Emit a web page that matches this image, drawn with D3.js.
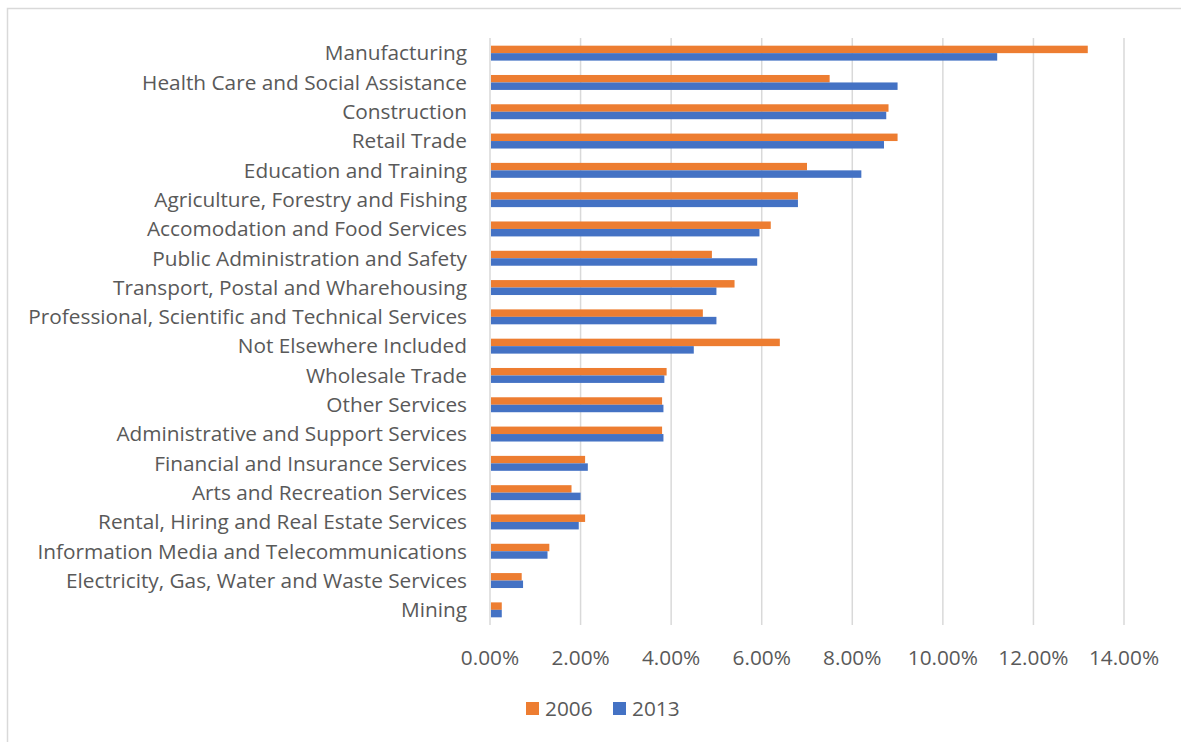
<!DOCTYPE html>
<html>
<head>
<meta charset="utf-8">
<script src="https://cdn.jsdelivr.net/npm/d3@7"></script>
<style>
  body { margin: 0; background: #fff; }
  svg { display: block; font-family: "Open Sans", Lato, sans-serif; }
</style>
</head>
<body>
<svg id="chart" width="1181" height="742"></svg>
<script>
const categories = [
  'Manufacturing', 'Health Care and Social Assistance', 'Construction', 'Retail Trade',
  'Education and Training', 'Agriculture, Forestry and Fishing', 'Accomodation and Food Services',
  'Public Administration and Safety', 'Transport, Postal and Wharehousing',
  'Professional, Scientific and Technical Services', 'Not Elsewhere Included', 'Wholesale Trade',
  'Other Services', 'Administrative and Support Services', 'Financial and Insurance Services',
  'Arts and Recreation Services', 'Rental, Hiring and Real Estate Services',
  'Information Media and Telecommunications', 'Electricity, Gas, Water and Waste Services', 'Mining'
];
const series = ['2006', '2013'];
const values2006 = [13.2, 7.5, 8.8, 9.0, 7.0, 6.8, 6.2, 4.9, 5.4, 4.7, 6.4, 3.9, 3.8, 3.8, 2.1, 1.8, 2.1, 1.31, 0.7, 0.26];
const values2013 = [11.2, 9.0, 8.75, 8.7, 8.2, 6.8, 5.95, 5.9, 5.0, 5.0, 4.5, 3.85, 3.83, 3.83, 2.16, 2.0, 1.96, 1.27, 0.73, 0.26];
const xTicks = [0, 2, 4, 6, 8, 10, 12, 14];
const colors = { '2006': '#ED7D31', '2013': '#4472C4' };

const svg = d3.select('#chart');
const txt = '#595959';
const fs = 20.8;

// outer chart border
svg.append('rect').attr('x', 7.5).attr('y', 8.5).attr('width', 1180).attr('height', 740)
  .attr('fill', 'none').attr('stroke', '#d9d9d9').attr('stroke-width', 1.5);

const x = d3.scaleLinear().domain([0, 14]).range([490, 1124]);
const y = d3.scaleBand().domain(categories).range([38.5, 624.5]).paddingInner(0.49).paddingOuter(0.245);
const ySub = d3.scaleBand().domain(series).range([0, y.bandwidth()]);

// gridlines
svg.append('g').selectAll('line').data(xTicks).join('line')
  .attr('x1', d => x(d)).attr('x2', d => x(d)).attr('y1', 38).attr('y2', 625)
  .attr('stroke', '#d9d9d9').attr('stroke-width', 1.5);

// bars
const rows = categories.map((c, i) => ({ c, v: { '2006': values2006[i], '2013': values2013[i] } }));
const g = svg.append('g').selectAll('g').data(rows).join('g')
  .attr('transform', d => `translate(0,${y(d.c)})`);
g.selectAll('rect').data(d => series.map(s => ({ s, v: d.v[s] }))).join('rect')
  .attr('x', x(0) + 1).attr('y', d => ySub(d.s))
  .attr('width', d => x(d.v) - x(0) - 1).attr('height', ySub.bandwidth())
  .attr('fill', d => colors[d.s]);

// category labels
svg.append('g').selectAll('text').data(categories).join('text')
  .attr('x', x(0) - 23).attr('y', d => y(d) + y.bandwidth() / 2)
  .attr('dy', '0.35em').attr('text-anchor', 'end')
  .attr('fill', txt).attr('font-size', fs).text(d => d);

// x tick labels
svg.append('g').selectAll('text').data(xTicks).join('text')
  .attr('x', d => x(d)).attr('y', 658).attr('dy', '0.35em').attr('text-anchor', 'middle')
  .attr('fill', txt).attr('font-size', fs).text(d => d.toFixed(2) + '%');

// legend
const leg = svg.append('g').attr('transform', 'translate(526,709)');
const li = leg.selectAll('g').data(series).join('g').attr('transform', (d, i) => `translate(${i * 87},0)`);
li.append('rect').attr('x', 0).attr('y', -7).attr('width', 13).attr('height', 13).attr('fill', d => colors[d]);
li.append('text').attr('x', 19).attr('y', 0).attr('dy', '0.35em')
  .attr('fill', txt).attr('font-size', fs).text(d => d);
</script>
</body>
</html>
